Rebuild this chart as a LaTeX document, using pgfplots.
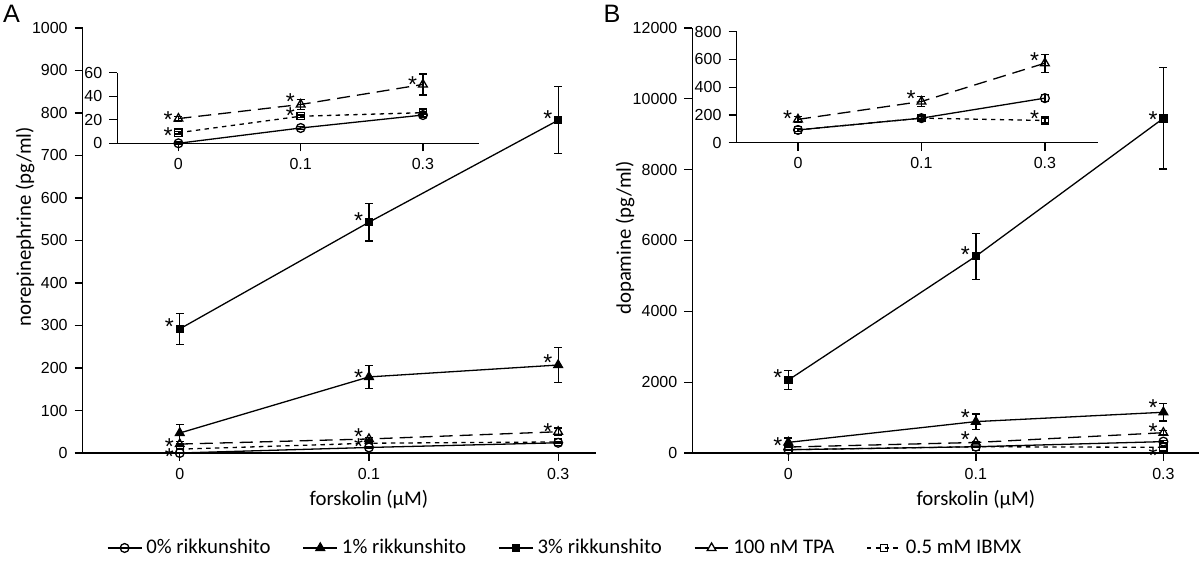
\documentclass[border=0pt]{standalone}
\usepackage{fontspec}
\setmainfont{Carlito}
\newfontfamily\tickfamily{Liberation Sans}
\usepackage{pgfplots}
\usepackage{pgfplotstable}
\pgfplotsset{compat=1.18}
\newcommand\tickfont{\tickfamily\fontsize{8}{9.6}\selectfont}
\newcommand\labfont{\fontsize{10.4}{12}\selectfont}
\newcommand\astfont{\tickfamily\fontsize{11.5}{12}\selectfont}

% ---------- Panel A data (norepinephrine, pg/ml) ----------
\pgfplotstableread{
x y e
0 0 1
1 13 1
2 24 2
}\Azero
\pgfplotstableread{
x y e
0 47 20
1 179 27
2 207 41
}\Aone
\pgfplotstableread{
x y e
0 292 36
1 543 44
2 783 79
}\Athree
\pgfplotstableread{
x y e
0 21 2
1 33 4
2 50 9
}\Atpa
\pgfplotstableread{
x y e
0 9 1
1 23 1
2 26 1
}\Aibmx
% ---------- Panel B data (dopamine, pg/ml) ----------
\pgfplotstableread{
x y e
0 92 10
1 177 15
2 321 25
}\Bzero
\pgfplotstableread{
x y e
0 300 120
1 886 215
2 1150 250
}\Bone
\pgfplotstableread{
x y e
0 2060 270
1 5556 650
2 9450 1430
}\Bthree
\pgfplotstableread{
x y e
0 168 20
1 297 35
2 573 65
}\Btpa
\pgfplotstableread{
x y e
0 92 10
1 177 10
2 160 12
}\Bibmx

\pgfplotsset{
  base/.style={
    scale only axis, clip=false,
    axis x line=bottom, axis y line=left,
    axis line style={line width=0.65pt,-},
    xtick={0,1,2}, xticklabels={0,0.1,0.3},
    tick style={line width=0.65pt,black},
    tick align=outside, major tick length=4pt,
    ticklabel style={font=\tickfont},
    scaled y ticks=false,
    /pgf/number format/assume math mode=true,
    /pgf/number format/1000 sep={},
    every axis plot/.append style={line width=0.65pt},
    label style={font=\labfont},
  },
  eb/.style={
    /pgfplots/error bars/y dir=both,
    /pgfplots/error bars/y explicit,
    /pgfplots/error bars/error bar style={line width=0.65pt,solid},
    /pgfplots/error bars/error mark options={rotate=90,mark size=2pt,line width=0.65pt,solid},
  },
  s0/.style={black,solid,mark=o,mark size=2.2pt,mark options={solid,fill=white},eb},
  s1/.style={black,solid,mark=triangle*,mark size=2.5pt,mark options={solid,fill=black},eb},
  s3/.style={black,solid,mark=square*,mark size=1.8pt,mark options={solid,fill=black},eb},
  stpa/.style={black,dash pattern=on 6.5pt off 3.5pt,mark=triangle,mark size=2.5pt,mark options={solid,fill=white},eb},
  sibmx/.style={black,dash pattern=on 2.2pt off 2.2pt,mark=square,mark size=1.8pt,mark options={solid,fill=white},eb},
  ast/.style={forget plot,draw=none,mark=none,nodes near coords={*},
    every node near coord/.style={font=\astfont,anchor=center,inner sep=0pt,xshift=-5.2pt,yshift=1pt}},
}

\begin{document}
\begin{tikzpicture}
\useasboundingbox (0,0) rectangle (600pt,283pt);

% ================= Panel A main =================
\begin{axis}[base,
  at={(41.35pt,56.5pt)}, anchor=south west,
  width=256.65pt, height=212.5pt,
  xmin=-0.513, xmax=2.2, ymin=0, ymax=1000,
  ytick={0,100,...,1000},
  xlabel={forskolin (μM)},
  xlabel style={at={(axis description cs:0.5577,-0.11)},anchor=center},
  ylabel={norepinephrine (pg/ml)},
  ylabel style={at={(axis description cs:-0.1124,0.5318)},anchor=center},
  legend columns=5,
  legend style={draw=none,fill=none,font=\labfont,at={(axis description cs:0.9416,-0.2235)},anchor=center,
    /tikz/every even column/.append style={column sep=14pt}},
]
\addplot[s0] table[x=x,y=y,y error=e] {\Azero};
\addlegendentry{0\% rikkunshito}
\addplot[s1] table[x=x,y=y,y error=e] {\Aone};
\addlegendentry{1\% rikkunshito}
\addplot[s3] table[x=x,y=y,y error=e] {\Athree};
\addlegendentry{3\% rikkunshito}
\addplot[stpa] table[x=x,y=y,y error=e] {\Atpa};
\addlegendentry{100 nM TPA}
\addplot[sibmx] table[x=x,y=y,y error=e] {\Aibmx};
\addlegendentry{0.5 mM IBMX}
\addplot[ast] coordinates {(0,292) (1,543) (2,783) (1,172) (2,207) (0,11) (1,33) (2,45) (0,-14) (1,10)};
\end{axis}

% ================= Panel A inset =================
\begin{axis}[base,
  at={(58.65pt,211.35pt)}, anchor=south west,
  width=180.75pt, height=35.3pt,
  xmin=-0.5, xmax=2.457, ymin=0, ymax=60,
  ytick={0,20,40,60},
]
\addplot[sibmx] table[x=x,y=y,y error=e] {\Aibmx};
\addplot[stpa] table[x=x,y=y,y error=e] {\Atpa};
\addplot[s0] table[x=x,y=y,y error=e] {\Azero};
\addplot[ast] coordinates {(0,18.7) (1,33.5) (2,47.8) (0,4.5) (1,21.5)};
\end{axis}

% ================= Panel B main =================
\begin{axis}[base,
  at={(346.15pt,56.5pt)}, anchor=south west,
  width=253.35pt, height=212.5pt,
  xmin=-0.512, xmax=2.19, ymin=0, ymax=12000,
  ytick={0,2000,...,12000},
  xlabel={forskolin (μM)},
  xlabel style={at={(axis description cs:0.5596,-0.11)},anchor=center},
  ylabel={dopamine (pg/ml)},
  ylabel style={at={(axis description cs:-0.1328,0.506)},anchor=center},
]
\addplot[s0] table[x=x,y=y,y error=e] {\Bzero};
\addplot[sibmx] table[x=x,y=y,y error=e] {\Bibmx};
\addplot[stpa] table[x=x,y=y,y error=e] {\Btpa};
\addplot[s1] table[x=x,y=y,y error=e] {\Bone};
\addplot[s3] table[x=x,y=y,y error=e] {\Bthree};
\addplot[ast] coordinates {(0,2060) (1,5556) (2,9365) (0,150) (1,954) (2,1223) (1,308) (2,545) (2,-142)};
\end{axis}

% ================= Panel B inset =================
\begin{axis}[base,
  at={(368.25pt,211.65pt)}, anchor=south west,
  width=180.75pt, height=55.5pt,
  xmin=-0.498, xmax=2.43, ymin=0, ymax=800,
  ytick={0,200,...,800},
]
\addplot[sibmx] table[x=x,y=y,y error=e] {\Bibmx};
\addplot[stpa] table[x=x,y=y,y error=e] {\Btpa};
\addplot[s0] table[x=x,y=y,y error=e] {\Bzero};
\addplot[ast] coordinates {(0,162) (1,306) (2,579) (2,159)};
\end{axis}

\node[font=\tickfamily\fontsize{12.6}{14}\selectfont,anchor=center] at (5.75pt,276pt) {A};
\node[font=\tickfamily\fontsize{12.6}{14}\selectfont,anchor=center] at (306pt,276pt) {B};
\end{tikzpicture}
\end{document}
